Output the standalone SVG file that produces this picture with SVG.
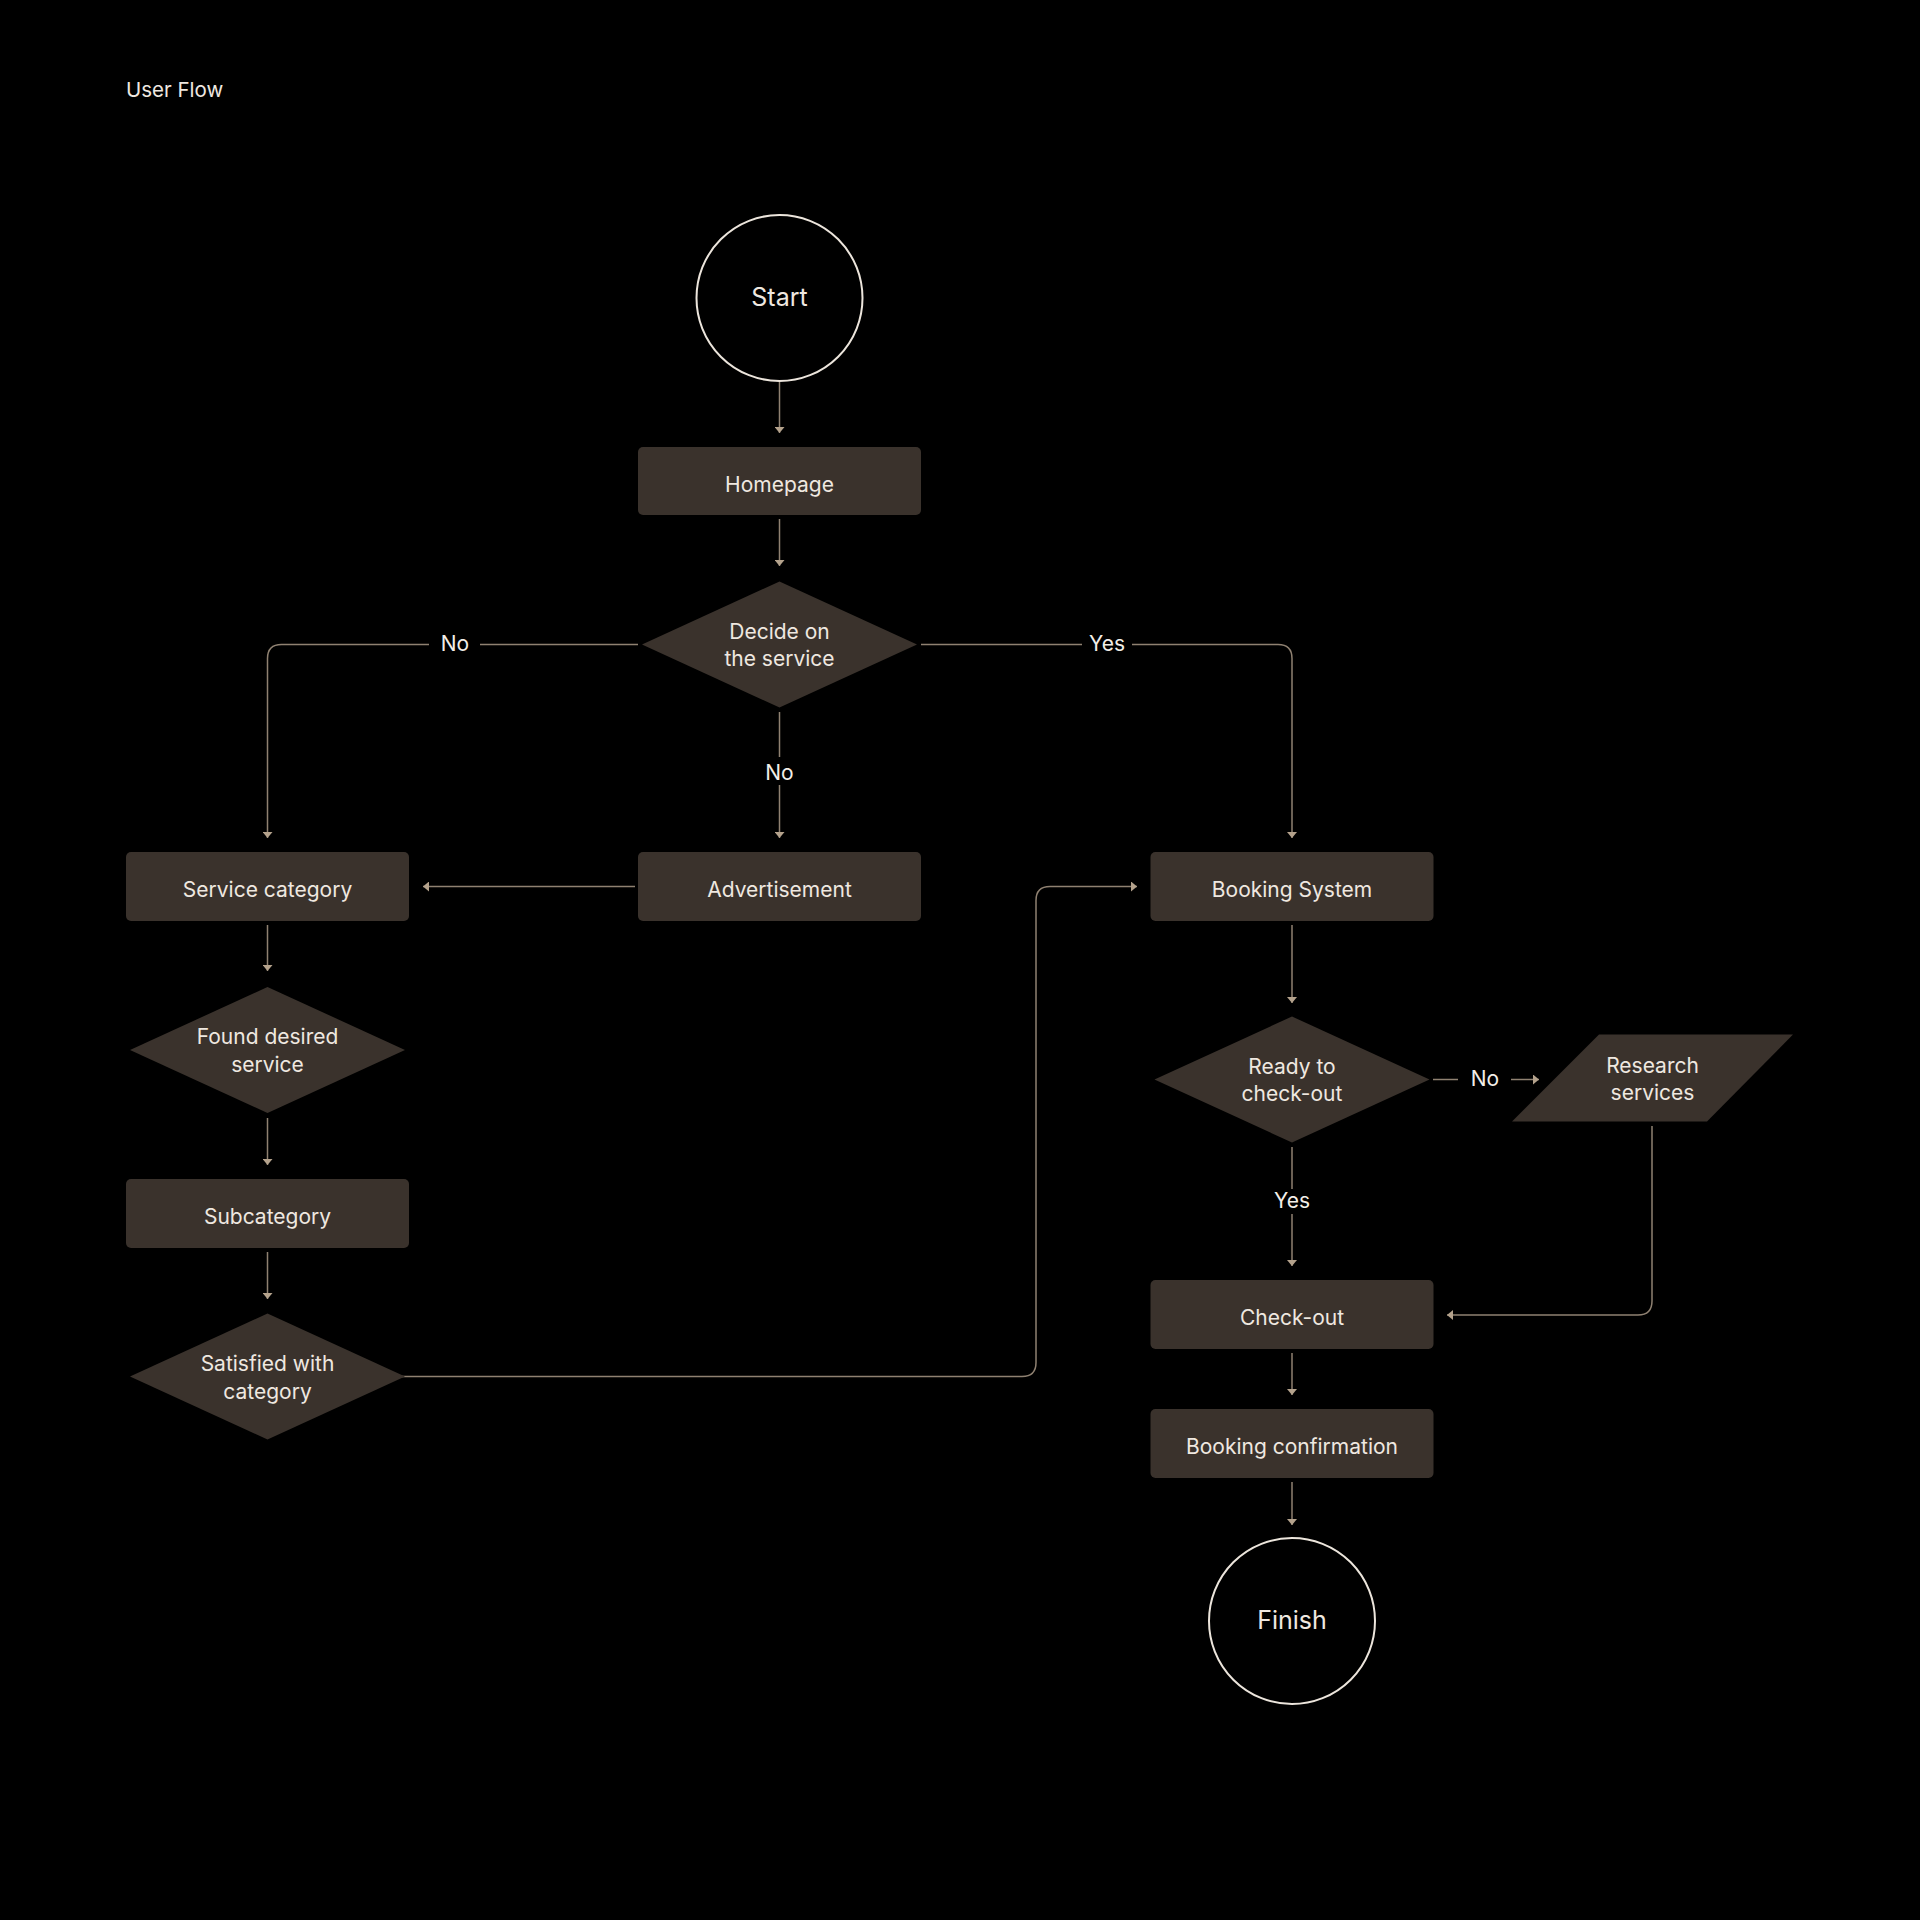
<svg xmlns="http://www.w3.org/2000/svg" width="1920" height="1920" viewBox="0 0 1920 1920">
  <defs>
    <style>
      .bg { fill: #000000; }
      .node { fill: #3a322c; }
      .term { fill: none; stroke: #ece5dc; stroke-width: 2; }
      .t { font-family: Inter, "Noto Sans", "Liberation Sans", sans-serif; font-size: 21px; fill: #efe8e0; text-anchor: middle; }
      .big { font-size: 25px; }
      .lbl { font-family: Inter, "Noto Sans", "Liberation Sans", sans-serif; font-size: 21px; fill: #f3eee8; text-anchor: middle; }
      .title { font-family: Inter, "Noto Sans", "Liberation Sans", sans-serif; font-size: 20.5px; fill: #efe8e0; }
      .c { fill: none; stroke: #8f8171; stroke-width: 1.5; }
    </style>
    <marker id="ah" viewBox="0 0 6 10" refX="6" refY="5" markerWidth="6" markerHeight="10" markerUnits="userSpaceOnUse" orient="auto">
      <path d="M0,0 L6,5 L0,10 Z" fill="#b4a28c"/>
    </marker>
  </defs>
  <rect class="bg" x="0" y="0" width="1920" height="1920"/>

  <text class="title" x="126" y="97">User Flow</text>

  <g id="connectors">
    <path class="c" d="M779.5,382 V433" marker-end="url(#ah)"/>
    <path class="c" d="M779.5,519 V566" marker-end="url(#ah)"/>
    <path class="c" d="M779.5,712 V757"/>
    <path class="c" d="M779.5,785 V838" marker-end="url(#ah)"/>
    <text class="lbl" x="779.5" y="780">No</text>
    <path class="c" d="M638,644.5 H480"/>
    <path class="c" d="M429,644.5 H281.5 Q267.5,644.5 267.5,658.5 V838" marker-end="url(#ah)"/>
    <text class="lbl" x="455" y="651">No</text>
    <path class="c" d="M921,644.5 H1082"/>
    <path class="c" d="M1132,644.5 H1278 Q1292,644.5 1292,658.5 V838" marker-end="url(#ah)"/>
    <text class="lbl" x="1107" y="651">Yes</text>
    <path class="c" d="M635,886.5 H423" marker-end="url(#ah)"/>
    <path class="c" d="M267.5,925 V971" marker-end="url(#ah)"/>
    <path class="c" d="M267.5,1118 V1165" marker-end="url(#ah)"/>
    <path class="c" d="M267.5,1252 V1299" marker-end="url(#ah)"/>
    <path class="c" d="M402,1376.5 H1022 Q1036,1376.5 1036,1362.5 V900.5 Q1036,886.5 1050,886.5 H1137" marker-end="url(#ah)"/>
    <path class="c" d="M1292,925 V1003" marker-end="url(#ah)"/>
    <path class="c" d="M1433,1079.5 H1458"/>
    <path class="c" d="M1511,1079.5 H1539" marker-end="url(#ah)"/>
    <text class="lbl" x="1485" y="1086">No</text>
    <path class="c" d="M1292,1147 V1189"/>
    <path class="c" d="M1292,1214 V1266" marker-end="url(#ah)"/>
    <text class="lbl" x="1292" y="1208">Yes</text>
    <path class="c" d="M1652,1126 V1301 Q1652,1315 1638,1315 H1447" marker-end="url(#ah)"/>
    <path class="c" d="M1292,1353 V1395" marker-end="url(#ah)"/>
    <path class="c" d="M1292,1482 V1525" marker-end="url(#ah)"/>
  </g>

  <g id="start">
    <circle class="term" cx="779.5" cy="298" r="83"/>
    <text class="t big" x="779.5" y="306">Start</text>
  </g>
  <g id="homepage">
    <rect class="node" x="638" y="447" width="283" height="68" rx="5"/>
    <text class="t" x="779.5" y="491.5">Homepage</text>
  </g>
  <g id="decide">
    <polygon class="node" points="779.5,581.5 917,644.5 779.5,707.5 642,644.5"/>
    <text class="t" x="779.5" y="639">Decide on</text>
    <text class="t" x="779.5" y="666">the service</text>
  </g>
  <g id="service-category">
    <rect class="node" x="126" y="852" width="283" height="69" rx="5"/>
    <text class="t" x="267.5" y="897">Service category</text>
  </g>
  <g id="advertisement">
    <rect class="node" x="638" y="852" width="283" height="69" rx="5"/>
    <text class="t" x="779.5" y="897">Advertisement</text>
  </g>
  <g id="booking-system">
    <rect class="node" x="1150.5" y="852" width="283" height="69" rx="5"/>
    <text class="t" x="1292" y="897">Booking System</text>
  </g>
  <g id="found-desired">
    <polygon class="node" points="267.5,987 405,1050 267.5,1113 130,1050"/>
    <text class="t" x="267.5" y="1044">Found desired</text>
    <text class="t" x="267.5" y="1071.5">service</text>
  </g>
  <g id="subcategory">
    <rect class="node" x="126" y="1179" width="283" height="69" rx="5"/>
    <text class="t" x="267.5" y="1224">Subcategory</text>
  </g>
  <g id="satisfied">
    <polygon class="node" points="267.5,1313.5 405,1376.5 267.5,1439.5 130,1376.5"/>
    <text class="t" x="267.5" y="1371">Satisfied with</text>
    <text class="t" x="267.5" y="1398.5">category</text>
  </g>
  <g id="ready">
    <polygon class="node" points="1292,1016.5 1429.5,1079.5 1292,1142.5 1154.5,1079.5"/>
    <text class="t" x="1292" y="1074">Ready to</text>
    <text class="t" x="1292" y="1101">check-out</text>
  </g>
  <g id="research">
    <polygon class="node" points="1599,1034.5 1793,1034.5 1707,1121.5 1512,1121.5"/>
    <text class="t" x="1652.5" y="1073">Research</text>
    <text class="t" x="1652.5" y="1100">services</text>
  </g>
  <g id="check-out">
    <rect class="node" x="1150.5" y="1280" width="283" height="69" rx="5"/>
    <text class="t" x="1292" y="1325">Check-out</text>
  </g>
  <g id="booking-confirmation">
    <rect class="node" x="1150.5" y="1409" width="283" height="69" rx="5"/>
    <text class="t" x="1292" y="1454">Booking confirmation</text>
  </g>
  <g id="finish">
    <circle class="term" cx="1292" cy="1621" r="83"/>
    <text class="t big" x="1292" y="1629">Finish</text>
  </g>
</svg>
